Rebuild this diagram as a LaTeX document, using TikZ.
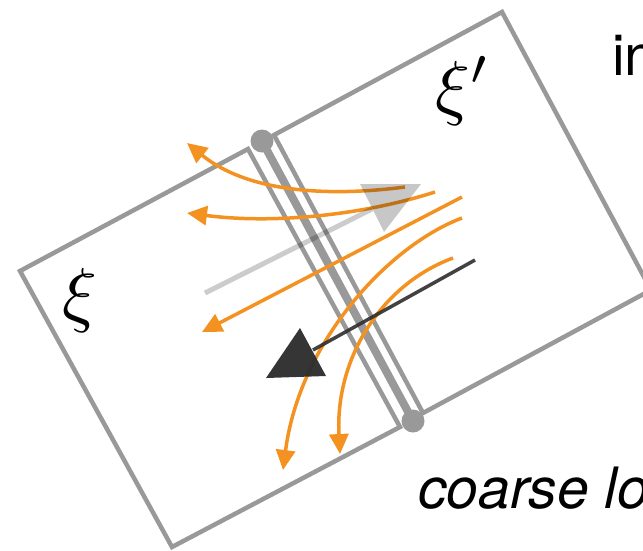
\documentclass[tikz,border=0pt]{standalone}
\usepackage{fontspec}
\setsansfont{TeX Gyre Heros}
\usetikzlibrary{arrows.meta}
\definecolor{frame}{HTML}{999999}
\definecolor{flow}{HTML}{F39221}
\definecolor{dark}{HTML}{2E2E2E}

\begin{document}
\begin{tikzpicture}[x=1pt,y=-1pt,
  cell/.style={draw=frame,line width=4.5pt,line join=miter},
  seam/.style={draw=frame,line width=8pt},
  endpt/.style={fill=frame},
  flowarr/.style={draw=flow,line width=3.5pt,-{Triangle[length=20pt,width=19pt]}},
  sym/.style={inner sep=0pt},
  lbl/.style={inner sep=0pt,font=\fontsize{57}{60}\selectfont\sffamily}]
\useasboundingbox (0,0) rectangle (643,550);
\clip (0,0) rectangle (643,550);
% the two cells and the shared face
\draw[cell] (20,271) -- (248,149) -- (400,427) -- (172,547) -- cycle;
\draw[cell] (274,135) -- (502,12) -- (651,290) -- (423,413) -- cycle;
\coordinate (top) at (262,141);
\coordinate (bot) at (413,421);
\draw[seam] (top) -- (bot);
\fill[endpt] (top) circle (11.5);
\fill[endpt] (bot) circle (11.5);
% flux lines
\draw[flowarr] (405,187) .. controls (320,198) and (245,190) .. (187,143);
\draw[flowarr] (435,192) .. controls (370,213) and (280,225) .. (187,213);
\draw[flowarr] (462,197) -- (202,332);
\draw[flowarr] (462,218) .. controls (390,245) and (300,340) .. (283,470);
\draw[flowarr] (453,258) .. controls (380,285) and (335,360) .. (340,454);
% normals
\draw[black,opacity=.2,line width=5pt] (205,293) -- (372,209);
\fill[black,opacity=.22] (360,184) -- (421,184) -- (384,232) -- cycle;
\draw[dark,opacity=.9,line width=3.5pt] (475,260) -- (313,350);
\fill[dark,opacity=.97] (300,328) -- (266,378) -- (326,376) -- cycle;
% labels
\node[sym,anchor=base west] (xi) at (62,318) {\scalebox{7.2}{$\xi$}};
\node[sym,anchor=base west] (xip) at (435,111) {\scalebox{7.2}{$\xi'$}};
\node[lbl,anchor=base west] (inlbl) at (612,75) {in};
\node[lbl,anchor=base west] (coarse) at (418,508) {\itshape coarse lo};
\end{tikzpicture}
\end{document}
